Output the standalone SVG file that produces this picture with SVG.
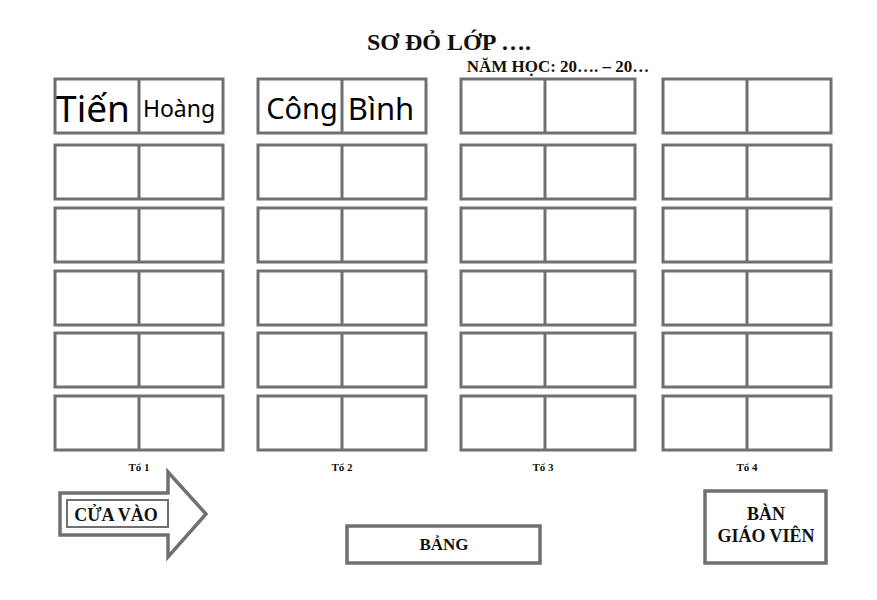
<svg xmlns="http://www.w3.org/2000/svg" width="877" height="600" viewBox="0 0 877 600">
<style>
.desk{fill:#fff;stroke:#707070;stroke-width:3}
.div{stroke:#707070;stroke-width:3}
.box{fill:#fff;stroke:#707070;stroke-width:3.5}
.ser{font-family:"Liberation Serif","Times New Roman",serif;font-weight:bold;fill:#111;text-anchor:middle}
.name{font-family:"Noto Sans","Open Sans",sans-serif;fill:#000;text-anchor:middle}
</style>
<rect width="877" height="600" fill="#fff"/>
<text class="ser" x="449" y="50" font-size="24">SƠ ĐỎ LỚP ….</text>
<text class="ser" x="558" y="72" font-size="17">NĂM HỌC: 20…. – 20…</text>
<g id="to1">
<rect class="desk" x="55" y="79" width="168" height="54"/><line class="div" x1="139" y1="79" x2="139" y2="133"/>
<rect class="desk" x="55" y="145" width="168" height="54"/><line class="div" x1="139" y1="145" x2="139" y2="199"/>
<rect class="desk" x="55" y="208" width="168" height="54"/><line class="div" x1="139" y1="208" x2="139" y2="262"/>
<rect class="desk" x="55" y="271" width="168" height="54"/><line class="div" x1="139" y1="271" x2="139" y2="325"/>
<rect class="desk" x="55" y="333" width="168" height="54"/><line class="div" x1="139" y1="333" x2="139" y2="387"/>
<rect class="desk" x="55" y="396" width="168" height="54"/><line class="div" x1="139" y1="396" x2="139" y2="450"/>
<text class="name" x="93" y="122" font-size="37">Tiến</text>
<text class="name" x="179" y="117" font-size="23">Hoàng</text>
<text class="ser" x="139" y="471" font-size="11">Tổ 1</text>
</g>
<g id="to2">
<rect class="desk" x="258" y="79" width="168" height="54"/><line class="div" x1="342" y1="79" x2="342" y2="133"/>
<rect class="desk" x="258" y="145" width="168" height="54"/><line class="div" x1="342" y1="145" x2="342" y2="199"/>
<rect class="desk" x="258" y="208" width="168" height="54"/><line class="div" x1="342" y1="208" x2="342" y2="262"/>
<rect class="desk" x="258" y="271" width="168" height="54"/><line class="div" x1="342" y1="271" x2="342" y2="325"/>
<rect class="desk" x="258" y="333" width="168" height="54"/><line class="div" x1="342" y1="333" x2="342" y2="387"/>
<rect class="desk" x="258" y="396" width="168" height="54"/><line class="div" x1="342" y1="396" x2="342" y2="450"/>
<text class="name" x="302" y="119" font-size="29">Công</text>
<text class="name" x="381" y="120" font-size="31">Bình</text>
<text class="ser" x="342" y="471" font-size="11">Tổ 2</text>
</g>
<g id="to3">
<rect class="desk" x="461" y="79" width="174" height="54"/><line class="div" x1="545" y1="79" x2="545" y2="133"/>
<rect class="desk" x="461" y="145" width="174" height="54"/><line class="div" x1="545" y1="145" x2="545" y2="199"/>
<rect class="desk" x="461" y="208" width="174" height="54"/><line class="div" x1="545" y1="208" x2="545" y2="262"/>
<rect class="desk" x="461" y="271" width="174" height="54"/><line class="div" x1="545" y1="271" x2="545" y2="325"/>
<rect class="desk" x="461" y="333" width="174" height="54"/><line class="div" x1="545" y1="333" x2="545" y2="387"/>
<rect class="desk" x="461" y="396" width="174" height="54"/><line class="div" x1="545" y1="396" x2="545" y2="450"/>
<text class="ser" x="543" y="471" font-size="11">Tổ 3</text>
</g>
<g id="to4">
<rect class="desk" x="663" y="79" width="168" height="54"/><line class="div" x1="747" y1="79" x2="747" y2="133"/>
<rect class="desk" x="663" y="145" width="168" height="54"/><line class="div" x1="747" y1="145" x2="747" y2="199"/>
<rect class="desk" x="663" y="208" width="168" height="54"/><line class="div" x1="747" y1="208" x2="747" y2="262"/>
<rect class="desk" x="663" y="271" width="168" height="54"/><line class="div" x1="747" y1="271" x2="747" y2="325"/>
<rect class="desk" x="663" y="333" width="168" height="54"/><line class="div" x1="747" y1="333" x2="747" y2="387"/>
<rect class="desk" x="663" y="396" width="168" height="54"/><line class="div" x1="747" y1="396" x2="747" y2="450"/>
<text class="ser" x="747" y="471" font-size="11">Tổ 4</text>
</g>
<g id="cua-vao">
<polygon class="box" points="60,493 168,493 168,472 206,514 168,557 168,535 60,535"/>
<rect x="67" y="500" width="101" height="27" fill="#fff" stroke="#707070" stroke-width="2"/>
<text class="ser" x="116" y="521" font-size="18">CỬA VÀO</text>
</g>
<g id="bang">
<rect class="box" x="347" y="526" width="193" height="37"/>
<text class="ser" x="444" y="550" font-size="17">BẢNG</text>
</g>
<g id="ban-giao-vien">
<rect class="box" x="705" y="491" width="121" height="72"/>
<text class="ser" x="766" y="520" font-size="18">BÀN</text>
<text class="ser" x="766" y="542" font-size="18">GIÁO VIÊN</text>
</g>
<g id="connectors"></g>
</svg>
